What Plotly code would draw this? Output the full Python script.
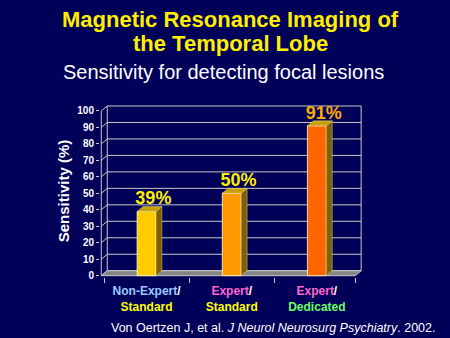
import plotly.graph_objects as go

# ---------------- data ----------------
categories = ["Non-Expert/Standard", "Expert/Standard", "Expert/Dedicated"]
sensitivity = [39, 50, 91]
value_labels = ["39%", "50%", "91%"]
category_ticktext = [
    "<span style='color:#99CCFF'>Non-Expert</span>/<br><span style='color:#FFFF00'>Standard</span>",
    "<span style='color:#FF66CC'>Expert</span>/<br><span style='color:#FFFF00'>Standard</span>",
    "<span style='color:#FF66CC'>Expert</span>/<br><span style='color:#66FF66'>Dedicated</span>",
]
y_tickvals = list(range(0, 101, 10))
title_lines = ["Magnetic Resonance Imaging of", "the Temporal Lobe"]
subtitle_text = "Sensitivity for detecting focal lesions"
citation_text = "Von Oertzen J, et al. <i>J Neurol Neurosurg Psychiatry</i>. 2002."
y_title = "Sensitivity (%)"

# ---------------- style ----------------
BG = "#000058"
FONT = "Arial, Liberation Sans, sans-serif"
bar_colors = ["#FFCC00", "#FF9900", "#FF6600"]
label_colors = ["#FFEE00", "#FFEE00", "#FFAA00"]
SIDE = "#806000"
TOP = "#C8A000"
GRID = "#C8C8C8"
BAR_W = 0.222
DX, DY = 0.07, 3.0          # depth offset of the 3-D box (data units)
X_LEFT, X_RIGHT = -0.532, 2.45   # front plane extent
Y_MAX = 100

L, R, T, B = 100, 88, 105, 61
PW, PH = 450 - L - R, 338 - T - B

xpos = list(range(len(categories)))

fig = go.Figure()
fig.add_trace(go.Bar(
    x=xpos, y=sensitivity, width=BAR_W,
    marker=dict(color=bar_colors, line=dict(color="rgba(255,255,210,0.8)", width=1)),
    hoverinfo="skip", showlegend=False,
))
fig.add_trace(go.Scatter(
    x=[i + 0.08 for i in xpos],
    y=[v + 1.5 for v in sensitivity],
    mode="text", text=value_labels, textposition="top center",
    textfont=dict(family=FONT, size=18, color=label_colors, weight="bold"),
    cliponaxis=False, hoverinfo="skip", showlegend=False,
))

shapes = []
line = dict(color=GRID, width=1)
# back wall gridlines + left wall diagonals
for v in y_tickvals:
    shapes.append(dict(type="line", xref="x", yref="y", layer="below",
                       x0=X_LEFT + DX, x1=X_RIGHT + DX, y0=v + DY, y1=v + DY, line=line))
    shapes.append(dict(type="line", xref="x", yref="y", layer="below",
                       x0=X_LEFT, x1=X_LEFT + DX, y0=v, y1=v + DY, line=line))
# floor
shapes.append(dict(type="path", xref="x", yref="y", layer="below",
                   path=f"M{X_LEFT},0 L{X_RIGHT},0 L{X_RIGHT + DX},{DY} L{X_LEFT + DX},{DY} Z",
                   fillcolor="#858585", line=dict(color=GRID, width=1)))
# wall verticals
for x0, x1, y0, y1 in [(X_LEFT, X_LEFT, 0, Y_MAX),
                       (X_LEFT + DX, X_LEFT + DX, DY, Y_MAX + DY),
                       (X_RIGHT + DX, X_RIGHT + DX, DY, Y_MAX + DY)]:
    shapes.append(dict(type="line", xref="x", yref="y", layer="below",
                       x0=x0, x1=x1, y0=y0, y1=y1, line=line))
# bar side and top faces
for i, v in zip(xpos, sensitivity):
    l, r = i - BAR_W / 2, i + BAR_W / 2
    shapes.append(dict(type="path", xref="x", yref="y",
                       path=f"M{r},0 L{r + DX},{DY} L{r + DX},{v + DY} L{r},{v} Z",
                       fillcolor=SIDE, line=dict(color="rgba(255,255,210,0.6)", width=0.6)))
    shapes.append(dict(type="path", xref="x", yref="y",
                       path=f"M{l},{v} L{l + DX},{v + DY} L{r + DX},{v + DY} L{r},{v} Z",
                       fillcolor=TOP, line=dict(color="rgba(255,255,210,0.6)", width=0.6)))

annotations = []
for txt, yc in zip(title_lines, [19, 43]):
    annotations.append(dict(text=txt, xref="paper", yref="paper", x=(230 - L) / PW,
                            y=1 + (T - yc) / PH, xanchor="center", yanchor="middle",
                            showarrow=False,
                            font=dict(family=FONT, size=22, color="#FFEE00", weight="bold")))
annotations.append(dict(text=subtitle_text, xref="paper", yref="paper", x=(223 - L) / PW,
                        y=1 + (T - 72) / PH, xanchor="center", yanchor="middle",
                        showarrow=False, font=dict(family=FONT, size=20, color="white")))
annotations.append(dict(text=citation_text, xref="paper", yref="paper", x=(437 - L) / PW,
                        y=-(328 - 277) / PH, xanchor="right", yanchor="middle",
                        showarrow=False, font=dict(family=FONT, size=12.5, color="white")))

fig.update_layout(
    width=450, height=338,
    paper_bgcolor=BG, plot_bgcolor=BG,
    margin=dict(l=L, r=R, t=T, b=B),
    font=dict(family=FONT, color="white"),
    shapes=shapes,
    annotations=annotations,
    xaxis=dict(
        range=[X_LEFT - 0.015, X_RIGHT + DX + 0.01],
        tickvals=xpos, ticktext=category_ticktext, ticks="", ticklabelstandoff=5,
        minor=dict(tickvals=[-0.5, 0.5, 1.5, 2.45], ticks="outside", ticklen=5,
                   tickcolor=GRID, showgrid=False),
        tickfont=dict(family=FONT, size=12, color="white", weight="bold"),
        showgrid=False, showline=False, zeroline=False, fixedrange=True,
    ),
    yaxis=dict(
        range=[-0.8, Y_MAX + DY + 0.6], tickvals=y_tickvals,
        ticks="outside", ticklen=3, tickcolor=GRID,
        tickfont=dict(family=FONT, size=10, color="white", weight="bold"),
        showgrid=False, showline=False, zeroline=False, fixedrange=True,
        title=dict(text=y_title, standoff=4,
                   font=dict(family=FONT, size=15, color="white", weight="bold")),
    ),
)

fig.write_html("out.html")
